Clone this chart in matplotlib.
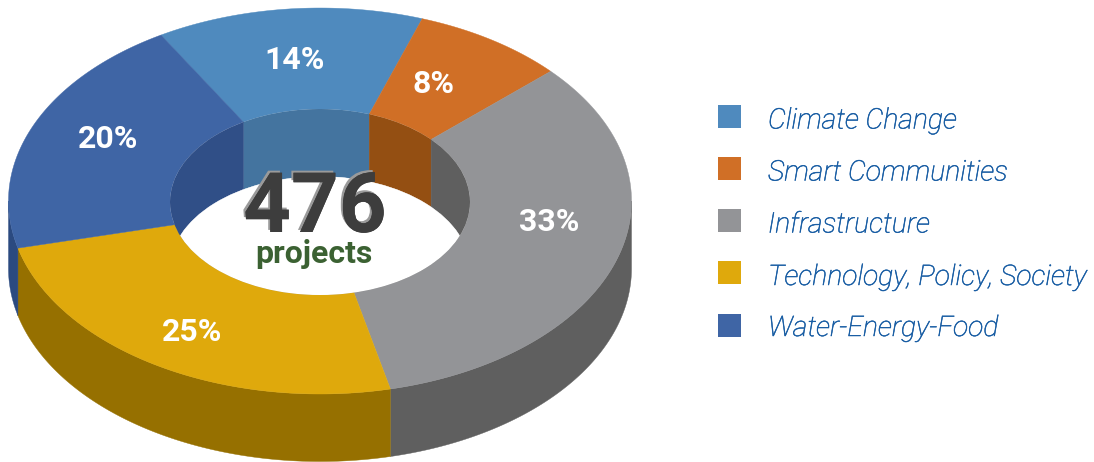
import numpy as np
import matplotlib
matplotlib.use("Agg")
import matplotlib.pyplot as plt
from matplotlib.patches import Polygon, Ellipse, Rectangle
import matplotlib.patheffects as pe

categories = ["Climate Change", "Smart Communities", "Infrastructure",
              "Technology, Policy, Society", "Water-Energy-Food"]
shares = [13.85, 7.95, 33.1, 24.7, 20.4]
share_labels = ["14%", "8%", "33%", "25%", "20%"]
total_label = "476"
total_caption = "projects"

top_colors = ["#4f8abe", "#d06f26", "#939497", "#dfa90c", "#3f65a5"]
outer_wall_colors = ["#44749f", "#944f12", "#5f5f5f", "#967000", "#2b4a80"]
inner_wall_colors = ["#44749f", "#944f12", "#5f5f5f", "#967000", "#304f87"]
label_xy = [(295, 60), (433, 84), (549, 222), (192, 332), (108, 139)]
legend_y = [116.5, 168.5, 220.5, 272.5, 325.5]
legend_baseline = [128.5, 180.5, 232.5, 285, 336]

W, H = 1094, 462
CX, CY = 320, 201
RX, RY = 311.5, 193
IRX, IRY = 150, 93
ICY = 202
DEPTH = 67.5
START = 120.7

plt.rcParams["font.family"] = ["Roboto", "DejaVu Sans"]
fig = plt.figure(figsize=(W / 100, H / 100), dpi=100)
ax = fig.add_axes([0, 0, 1, 1])
ax.set_xlim(0, W)
ax.set_ylim(H, 0)
ax.axis("off")


def arc(a0, a1, rx, ry, cy, dy=0.0, n=120):
    t = np.radians(np.linspace(a0, a1, n))
    return np.column_stack([CX + rx * np.cos(t), cy - ry * np.sin(t) + dy])


ends = START - np.cumsum(shares) * 3.6
starts = np.r_[START, ends[:-1]]

# outer walls (front half only)
for a0, a1, c in zip(starts, ends, outer_wall_colors):
    lo, hi = a1, a0
    for shift in (0, -360):
        l, h = max(lo + shift, -180), min(hi + shift, 0)
        if h > l:
            top = arc(h, l, RX, RY, CY)
            bot = arc(l, h, RX, RY, CY, DEPTH)
            ax.add_patch(Polygon(np.vstack([top, bot]), closed=True, fc=c, ec=c, lw=0.3, zorder=2))

# top face
for a0, a1, c in zip(starts, ends, top_colors):
    outer = arc(a0, a1, RX, RY, CY)
    inner = arc(a1, a0, IRX, IRY, ICY)
    ax.add_patch(Polygon(np.vstack([outer, inner]), closed=True, fc=c, ec=c, lw=0.3, zorder=3))

# inside of the hole
hole = Ellipse((CX, ICY), 2 * IRX, 2 * IRY, fc="none", ec="none", zorder=4)
ax.add_patch(hole)
for a0, a1, c in zip(starts, ends, inner_wall_colors):
    top = arc(a0, a1, IRX, IRY, ICY)
    bot = arc(a1, a0, IRX, IRY, ICY, DEPTH)
    p = Polygon(np.vstack([top, bot]), closed=True, fc=c, ec=c, lw=0.3, zorder=4)
    ax.add_patch(p)
    p.set_clip_path(hole)
floor = Ellipse((CX, ICY + DEPTH), 2 * IRX, 2 * IRY, fc="white", ec="white", lw=0.3, zorder=5)
ax.add_patch(floor)
floor.set_clip_path(hole)

# share labels
for (x, y), s in zip(label_xy, share_labels):
    ax.text(x, y, s, color="white", fontsize=23, fontweight="bold",
            ha="center", va="center", zorder=7)

# centre text
ax.text(315, 232, total_label, color="#3d3d3d", fontsize=60, fontweight="bold",
        ha="center", va="baseline", zorder=8,
        path_effects=[pe.withSimplePatchShadow(offset=(-1.5, 1.5), shadow_rgbFace="#9a9a9a", alpha=1.0, rho=1.0),
                      pe.Normal()])
ax.text(314, 254, total_caption, color="#3b6132", fontsize=23, fontweight="bold",
        ha="center", va="center", zorder=9)

# legend
for y, b, c, name in zip(legend_y, legend_baseline, top_colors, categories):
    ax.add_patch(Rectangle((718, y - 11.5), 23, 23, fc=c, ec="none", zorder=3))
    ax.text(768, b, name, color="#175ca3", fontsize=20.4, fontstyle="italic",
            fontweight="light", ha="left", va="baseline", zorder=3,
            path_effects=[pe.withStroke(linewidth=0.35, foreground="#175ca3")])

fig.savefig("out.png", dpi=100, facecolor="white")
